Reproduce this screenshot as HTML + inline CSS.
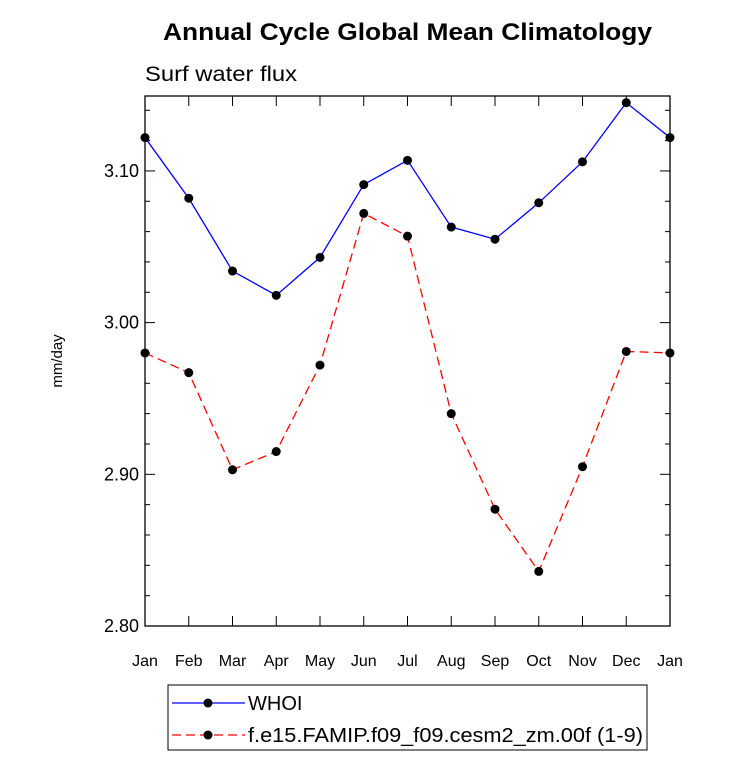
<!DOCTYPE html>
<html><head><meta charset="utf-8"><style>
body{margin:0;background:#fff;font-family:"Liberation Sans",sans-serif}
</style></head><body>
<svg id="chart" width="733" height="761" xmlns="http://www.w3.org/2000/svg" font-family="Liberation Sans, sans-serif">
<text x="163" y="40" font-size="24" font-weight="bold" textLength="489" lengthAdjust="spacingAndGlyphs">Annual Cycle Global Mean Climatology</text>
<text x="145" y="81" font-size="21" textLength="152" lengthAdjust="spacingAndGlyphs">Surf water flux</text>
<text transform="translate(62,361) rotate(-90)" font-size="15" text-anchor="middle">mm/day</text>
<g id="marks"></g>
<rect x="145" y="96" width="525" height="530" fill="none" stroke="#000" stroke-width="1.3"/>
<g>
<rect x="168" y="685" width="479" height="65" fill="none" stroke="#000" stroke-width="1"/>
<g>
<line x1="172" y1="703" x2="245" y2="703" stroke="#0000ff" stroke-width="1.3"/>
<circle cx="208" cy="703" r="4.5" fill="#000"/>
<text x="248" y="710" font-size="20">WHOI</text></g>
<g>
<line x1="172" y1="735" x2="245" y2="735" stroke="#ff0000" stroke-width="1.3" stroke-dasharray="9,5"/>
<circle cx="208" cy="735" r="4.5" fill="#000"/>
<text x="248" y="742" font-size="20" textLength="395" lengthAdjust="spacingAndGlyphs">f.e15.FAMIP.f09_f09.cesm2_zm.00f (1-9)</text></g>
</g>
</svg>
<script>
const months=["Jan","Feb","Mar","Apr","May","Jun","Jul","Aug","Sep","Oct","Nov","Dec","Jan"];
const whoi=[3.122,3.082,3.034,3.018,3.043,3.091,3.107,3.063,3.055,3.079,3.106,3.145,3.122];
const model=[2.980,2.967,2.903,2.915,2.972,3.072,3.057,2.940,2.877,2.836,2.905,2.981,2.980];
const yTicks=[2.80,2.90,3.00,3.10];
const yLabels=["2.80","2.90","3.00","3.10"];
const L=145,R=670,T=96,B=626,yMin=2.80,yMax=3.1494;
const NS="http://www.w3.org/2000/svg";
function xs(i){return L+(R-L)*i/(months.length-1);}
function ys(v){return B-(v-yMin)/(yMax-yMin)*(B-T);}
const g=document.getElementById('marks');
function mk(t,a){const e=document.createElementNS(NS,t);for(const k in a)e.setAttribute(k,a[k]);g.appendChild(e);return e;}
for(let v=2.80;v<=3.15;v+=0.02){const y=ys(v);const major=Math.abs((v*100)%10)<0.5||Math.abs((v*100)%10)>9.5;const len=major?10:5;
const a=mk('line',{x1:L,x2:L+len,y1:y,y2:y,stroke:'#000','stroke-width':1});

const b=mk('line',{x1:R,x2:R-len,y1:y,y2:y,stroke:'#000','stroke-width':1});
}
yTicks.forEach((v,i)=>{const t=mk('text',{x:L-6,y:ys(v)+6,'font-size':18,'text-anchor':'end'});t.textContent=yLabels[i];
});
months.forEach((m,i)=>{const x=xs(i);
const a=mk('line',{x1:x,x2:x,y1:B,y2:B-10,stroke:'#000','stroke-width':1});

const b=mk('line',{x1:x,x2:x,y1:T,y2:T+10,stroke:'#000','stroke-width':1});

const t=mk('text',{x:x,y:B+40,'font-size':16,'text-anchor':'middle'});t.textContent=m;
});
function series(vals,color,dash,name){
const p=mk('polyline',{points:vals.map((v,i)=>xs(i)+','+ys(v)).join(' '),fill:'none',stroke:color,'stroke-width':1.3,'stroke-dasharray':dash});

vals.forEach((v,i)=>{const c=mk('circle',{cx:xs(i),cy:ys(v),r:4.5,fill:'#000'});
});}
series(whoi,'#0000ff','none','whoi');
series(model,'#ff0000','9,5','model');
</script>
</body></html>
